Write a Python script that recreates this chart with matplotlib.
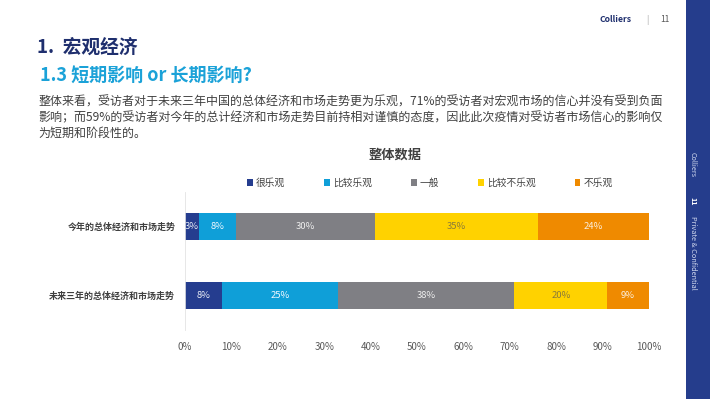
import numpy as np
import matplotlib
matplotlib.use("Agg")
import matplotlib.pyplot as plt
from matplotlib.patches import Rectangle

plt.rcParams['font.family'] = ['Noto Sans CJK SC', 'DejaVu Sans']

# data
rows = ['今年的总体经济和市场走势', '未来三年的总体经济和市场走势']
series = ['很乐观', '比较乐观', '一般', '比较不乐观', '不乐观']
values = {
    '很乐观': [3, 8],
    '比较乐观': [8, 25],
    '一般': [30, 38],
    '比较不乐观': [35, 20],
    '不乐观': [24, 9],
}
colors = ['#253d8f', '#0f9fd8', '#7f7f84', '#ffd200', '#ef8a00']
label_colors = ['#e8ecf5', '#f0f8ff', '#eeeeee', '#8a7a3a', '#fbeedd']
xticks = np.arange(0, 101, 10)

navy = '#1f2f6e'
fig = plt.figure(figsize=(7.1, 3.99), dpi=100)

# side bar
fig.patches.append(Rectangle((686 / 710, 0), 24 / 710, 1, transform=fig.transFigure,
                             facecolor='#253d8c', edgecolor='none'))
fig.text(693 / 710, 1 - 165 / 399, 'Colliers', rotation=-90, color='#d0d8ee',
         fontsize=5.2, ha='center', va='center')
fig.text(693 / 710, 1 - 201 / 399, '11', rotation=-90, color='white',
         fontsize=5.2, ha='center', va='center', fontweight='bold')
fig.text(693 / 710, 1 - 253 / 399, 'Private & Confidential', rotation=-90, color='#d0d8ee',
         fontsize=5.3, ha='center', va='center')

# header
fig.text(632 / 710, 1 - 20 / 399, 'Colliers', color=navy, fontsize=6.2,
         fontweight='bold', ha='right', va='center')
fig.text(647 / 710, 1 - 20 / 399, '|', color='#999999', fontsize=6, ha='center', va='center')
fig.text(665 / 710, 1 - 20 / 399, '11', color='#555555', fontsize=6, ha='center', va='center')

fig.text(37 / 710, 1 - 47 / 399, '1.  宏观经济', color=navy, fontsize=13.5,
         fontweight='bold', ha='left', va='center')
fig.text(40 / 710, 1 - 75 / 399, '1.3 短期影响 or 长期影响?', color='#1ba2d8', fontsize=13,
         fontweight='bold', ha='left', va='center')
para = ['整体来看，受访者对于未来三年中国的总体经济和市场走势更为乐观，71%的受访者对宏观市场的信心并没有受到负面',
        '影响；而59%的受访者对今年的总计经济和市场走势目前持相对谨慎的态度，因此此次疫情对受访者市场信心的影响仅',
        '为短期和阶段性的。']
for i, line in enumerate(para):
    fig.text(38 / 710, 1 - (102 + i * 15.5) / 399, line, color='#404040', fontsize=8.65,
             ha='left', va='center')

fig.text(395 / 710, 1 - 155 / 399, '整体数据', color='#404040', fontsize=9.5,
         fontweight='bold', ha='center', va='center')

# chart
ax = fig.add_axes([185 / 710, 1 - 330 / 399, 464 / 710, 138 / 399])
y = np.arange(len(rows))
left = np.zeros(len(rows))
for name, c, lc in zip(series, colors, label_colors):
    v = np.array(values[name])
    bars = ax.barh(y, v, left=left, height=0.39, color=c, label=name)
    ax.bar_label(bars, labels=[f'{x}%' for x in v], label_type='center',
                 color=lc, fontsize=6.8)
    left += v

ax.set_ylim(1.5, -0.5)
ax.set_xlim(0, 100)
ax.set_yticks(y)
ax.set_yticklabels(rows, fontsize=6.5, fontweight='bold', color='#404040')
ax.set_xticks(xticks)
ax.set_xticklabels([f'{t}%' for t in xticks], fontsize=7, color='#595959')
ax.tick_params(length=0)
ax.tick_params(axis='y', pad=7)
ax.tick_params(axis='x', pad=9)
for s in ['top', 'right', 'bottom']:
    ax.spines[s].set_visible(False)
ax.spines['left'].set_color('#e3e3e3')
ax.spines['left'].set_linewidth(0.6)

ax.legend(ncol=5, loc='center', bbox_to_anchor=(430 / 710, 1 - 183 / 399),
          bbox_transform=fig.transFigure, frameon=False, fontsize=7,
          handlelength=0.6, handleheight=0.6, handletextpad=0.3,
          columnspacing=4.0, labelcolor='#404040')

fig.savefig('out.png', dpi=100)
